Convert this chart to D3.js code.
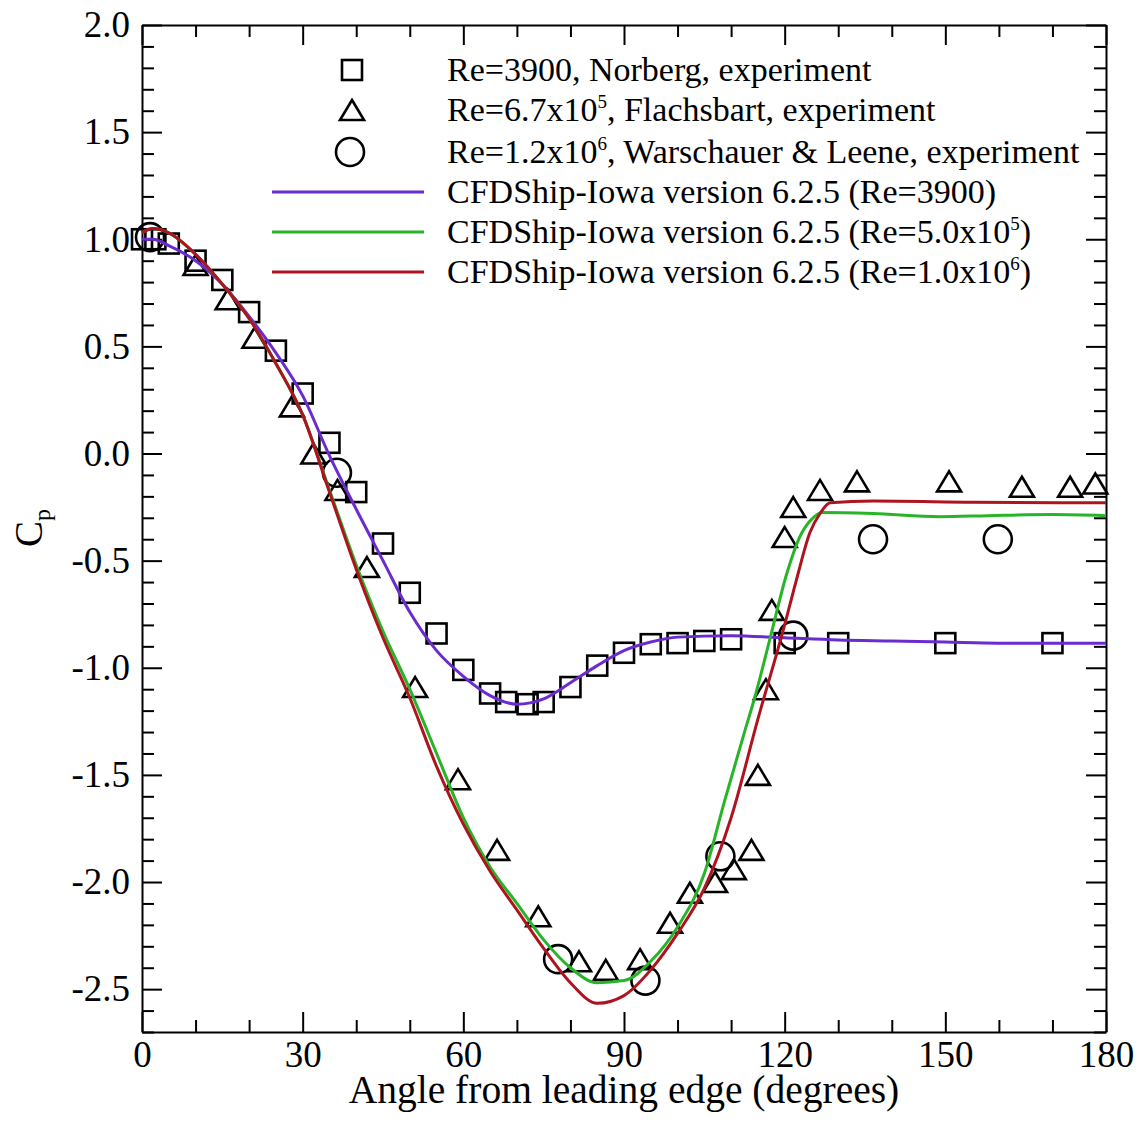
<!DOCTYPE html>
<html>
<head>
<meta charset="utf-8">
<script src="https://cdn.jsdelivr.net/npm/d3@7"></script>
<style>
  body { margin: 0; background: #fff; }
  svg text { font-family: "Liberation Serif", "Times New Roman", serif; fill: #000; }
</style>
</head>
<body>
<div id="chart"></div>
<script>
// Cp around a cylinder: experiments (markers) vs CFDShip-Iowa (lines)

// --- experiments ---
const norbergAngle = [0, 2.5, 5, 10, 15, 20, 25, 30, 35, 40, 45, 50, 55, 60, 65, 68, 72, 75, 80, 85, 90, 95, 100, 105, 110, 120, 130, 150, 170];
const norbergCp    = [1.0, 1.0, 0.98, 0.90, 0.81, 0.66, 0.48, 0.28, 0.05, -0.18, -0.42, -0.65, -0.84, -1.01, -1.12, -1.16, -1.17, -1.16, -1.09, -0.99, -0.93, -0.89, -0.885, -0.875, -0.867, -0.885, -0.885, -0.885, -0.885];

const flachAngle = [10, 16, 21, 28, 32, 36.5, 42, 51, 59, 66.3, 74, 81.6, 86.6, 93, 98.6, 102.3, 107, 110.5, 113.8, 115, 116.5, 117.6, 120, 121.6, 126.6, 133.5, 150.7, 164.3, 173.3, 178];
const flachCp    = [0.88, 0.72, 0.54, 0.22, 0.0, -0.17, -0.53, -1.09, -1.52, -1.85, -2.16, -2.37, -2.41, -2.36, -2.19, -2.05, -2.0, -1.94, -1.85, -1.50, -1.10, -0.73, -0.39, -0.25, -0.17, -0.13, -0.13, -0.155, -0.155, -0.14];

const warschAngle = [1.5, 36.4, 77.7, 94, 108, 121.6, 136.5, 159.8];
const warschCp    = [1.01, -0.09, -2.36, -2.46, -1.88, -0.85, -0.40, -0.40];

// --- CFD curves ---
const cfd3900Angle = [0, 2, 5, 10, 15, 20, 25, 30, 35, 40, 45, 50, 55, 60, 65, 70, 75, 80, 85, 90, 95, 100, 110, 120, 130, 140, 150, 160, 170, 180];
const cfd3900Cp    = [1.0, 1.0, 0.97, 0.90, 0.79, 0.64, 0.47, 0.27, -0.01, -0.26, -0.50, -0.74, -0.92, -1.04, -1.13, -1.17, -1.145, -1.07, -0.99, -0.92, -0.88, -0.857, -0.85, -0.86, -0.87, -0.875, -0.88, -0.885, -0.885, -0.885];

const cfd5e5Angle = [0, 2, 5, 10, 15, 20, 25, 30, 35, 40, 45, 50, 55, 60, 65, 70, 75, 80, 85, 90, 95, 100, 105, 108.8, 112.5, 114.4, 117.3, 120.4, 122.8, 125.3, 127, 136.5, 149, 158, 170, 180];
const cfd5e5Cp    = [1.03, 1.05, 1.03, 0.93, 0.79, 0.63, 0.42, 0.18, -0.17, -0.52, -0.83, -1.10, -1.40, -1.70, -1.93, -2.10, -2.27, -2.40, -2.47, -2.46, -2.37, -2.21, -1.96, -1.62, -1.30, -1.14, -0.86, -0.56, -0.39, -0.30, -0.275, -0.28, -0.295, -0.29, -0.285, -0.29];

const cfd1e6Angle = [0, 2, 5, 10, 15, 20, 25, 30, 35, 40, 45, 50, 55, 60, 65, 70, 75, 80, 85, 90, 95, 100, 105, 110, 115, 120, 122.3, 124.7, 126.6, 128.5, 136.5, 155, 180];
const cfd1e6Cp    = [1.03, 1.05, 1.03, 0.93, 0.79, 0.63, 0.42, 0.18, -0.18, -0.54, -0.86, -1.14, -1.46, -1.73, -1.95, -2.13, -2.31, -2.47, -2.566, -2.53, -2.41, -2.24, -2.03, -1.70, -1.24, -0.80, -0.58, -0.37, -0.28, -0.23, -0.222, -0.227, -0.23];

const xMajor = [0, 30, 60, 90, 120, 150, 180];
const yMajor = [2.0, 1.5, 1.0, 0.5, 0.0, -0.5, -1.0, -1.5, -2.0, -2.5];

const W = 1138, H = 1130;
const margin = { top: 25, right: 32, bottom: 98, left: 142 };
const COLORS = { purple: '#6a2ccf', green: '#28b428', red: '#ae1420' };

const svg = d3.select('#chart').append('svg')
    .attr('width', W)
    .attr('height', H);

const x = d3.scaleLinear().domain([0, 180]).range([margin.left, W - margin.right]);
const y = d3.scaleLinear().domain([-2.7, 2.0]).range([H - margin.bottom, margin.top]);

const xMinor = d3.range(0, 181, 10).filter(v => v % 30 !== 0);
const yMinor = d3.range(-27, 21, 1).map(v => v / 10).filter(v => Math.abs(v * 10) % 5 !== 0);

// axes: majors with labels, minors plain, mirrored on top/right
function styleAxis(sel) {
    sel.selectAll('.domain').attr('stroke', '#000').attr('stroke-width', 2);
    sel.selectAll('.tick line').attr('stroke', '#000').attr('stroke-width', 2);
}

const axBottom = svg.append('g').attr('transform', `translate(0,${y.range()[0]})`);
axBottom.call(d3.axisBottom(x).tickValues(xMajor).tickSize(-20).tickSizeOuter(0).tickPadding(9).tickFormat(d3.format('d')));
axBottom.append('g').call(d3.axisBottom(x).tickValues(xMinor).tickSize(-12).tickFormat(''))
    .select('.domain').remove();
axBottom.selectAll('text').attr('font-size', 37).attr('fill', '#000');
styleAxis(axBottom);

const axLeft = svg.append('g').attr('transform', `translate(${x.range()[0]},0)`);
axLeft.call(d3.axisLeft(y).tickValues(yMajor).tickSize(-20).tickSizeOuter(0).tickPadding(12).tickFormat(d => d3.format('.1f')(d).replace('−', '-')));
axLeft.append('g').call(d3.axisLeft(y).tickValues(yMinor).tickSize(-12).tickFormat(''))
    .select('.domain').remove();
axLeft.selectAll('text').attr('font-size', 37).attr('fill', '#000');
styleAxis(axLeft);

const axTop = svg.append('g').attr('transform', `translate(0,${y.range()[1]})`);
axTop.call(d3.axisTop(x).tickValues(xMajor).tickSize(-20).tickSizeOuter(0).tickFormat(''));
axTop.append('g').call(d3.axisTop(x).tickValues(xMinor).tickSize(-12).tickFormat(''))
    .select('.domain').remove();
styleAxis(axTop);

const axRight = svg.append('g').attr('transform', `translate(${x.range()[1]},0)`);
axRight.call(d3.axisRight(y).tickValues(yMajor).tickSize(-20).tickSizeOuter(0).tickFormat(''));
axRight.append('g').call(d3.axisRight(y).tickValues(yMinor).tickSize(-12).tickFormat(''))
    .select('.domain').remove();
styleAxis(axRight);

// axis titles
svg.append('text')
    .attr('x', (x.range()[0] + x.range()[1]) / 2)
    .attr('y', 1103)
    .attr('text-anchor', 'middle')
    .attr('font-size', 39.5)
    .text('Angle from leading edge (degrees)');

const yTitle = svg.append('text')
    .attr('transform', 'translate(42,528) rotate(-90)')
    .attr('text-anchor', 'middle')
    .attr('font-size', 39);
yTitle.append('tspan').text('C');
yTitle.append('tspan').attr('font-size', 24).attr('dy', 8).text('p');

// markers
const plot = svg.append('g');

function square(g, cx, cy) {
    g.append('rect').attr('x', cx - 10).attr('y', cy - 10).attr('width', 20).attr('height', 20)
        .attr('fill', 'none').attr('stroke', '#000').attr('stroke-width', 2.6);
}
function triangle(g, cx, cy) {
    g.append('path').attr('d', `M${cx},${cy - 10}L${cx + 12},${cy + 10}L${cx - 12},${cy + 10}Z`)
        .attr('fill', 'none').attr('stroke', '#000').attr('stroke-width', 2.6);
}
function circle(g, cx, cy) {
    g.append('circle').attr('cx', cx).attr('cy', cy).attr('r', 14)
        .attr('fill', 'none').attr('stroke', '#000').attr('stroke-width', 2.6);
}

norbergAngle.forEach((a, i) => square(plot, x(a), y(norbergCp[i])));
flachAngle.forEach((a, i) => triangle(plot, x(a), y(flachCp[i])));
warschAngle.forEach((a, i) => circle(plot, x(a), y(warschCp[i])));

// CFD lines
const line = d3.line().x(d => x(d[0])).y(d => y(d[1])).curve(d3.curveMonotoneX);
const series = [
    { ang: cfd3900Angle, cp: cfd3900Cp, color: COLORS.purple },
    { ang: cfd5e5Angle, cp: cfd5e5Cp, color: COLORS.green },
    { ang: cfd1e6Angle, cp: cfd1e6Cp, color: COLORS.red }
];
series.forEach(s => {
    plot.append('path')
        .datum(d3.zip(s.ang, s.cp))
        .attr('d', line)
        .attr('fill', 'none')
        .attr('stroke', s.color)
        .attr('stroke-width', 3);
});

// legend
const legend = svg.append('g');
const legX = 352, lineX0 = 272, lineX1 = 424, textX = 447;
const rows = [70, 110, 152, 192, 232, 272];
square(legend, legX, rows[0]);
triangle(legend, legX, rows[1]);
circle(legend, legX - 2, rows[2]);
[COLORS.purple, COLORS.green, COLORS.red].forEach((c, i) => {
    legend.append('line')
        .attr('x1', lineX0).attr('x2', lineX1)
        .attr('y1', rows[3 + i]).attr('y2', rows[3 + i])
        .attr('stroke', c).attr('stroke-width', 3);
});

// each entry: [text before superscript, superscript, text after]
const legendText = [
    ['Re=3900, Norberg, experiment', '', ''],
    ['Re=6.7x10', '5', ', Flachsbart, experiment'],
    ['Re=1.2x10', '6', ', Warschauer & Leene, experiment'],
    ['CFDShip-Iowa version 6.2.5 (Re=3900)', '', ''],
    ['CFDShip-Iowa version 6.2.5 (Re=5.0x10', '5', ')'],
    ['CFDShip-Iowa version 6.2.5 (Re=1.0x10', '6', ')']
];
const SUP_RISE = 13;
legendText.forEach(([pre, sup, post], i) => {
    const t = legend.append('text')
        .attr('x', textX).attr('y', rows[i] + 11)
        .attr('font-size', 34);
    t.append('tspan').text(pre);
    if (sup) {
        t.append('tspan').attr('font-size', 19).attr('dy', -SUP_RISE).text(sup);
        t.append('tspan').attr('dy', SUP_RISE).text(post);
    }
});
</script>
</body>
</html>
